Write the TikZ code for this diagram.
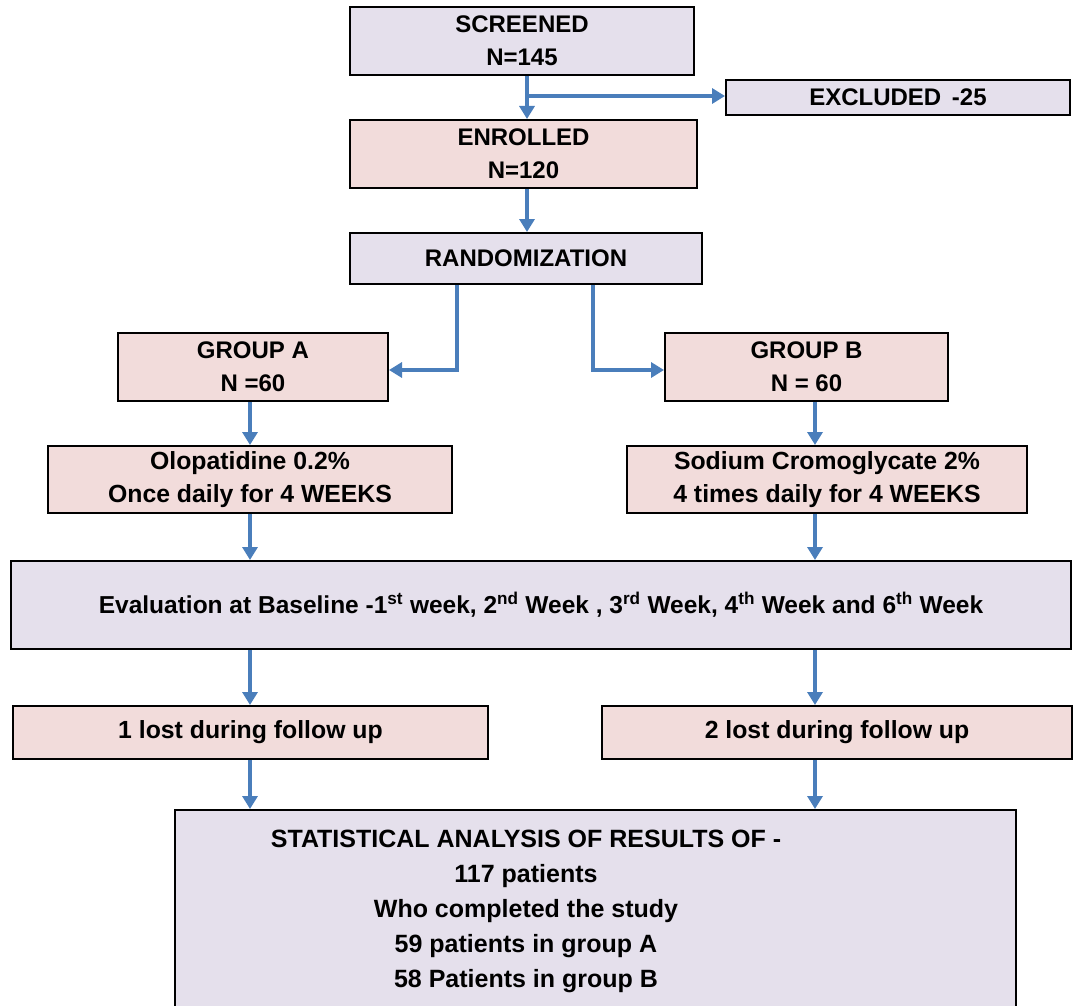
\documentclass[tikz,border=0pt]{standalone}
\usepackage{fontspec}
\setmainfont{Liberation Sans}
\usetikzlibrary{arrows.meta}
\definecolor{lav}{HTML}{E5E0EC}
\definecolor{pnk}{HTML}{F2DCDB}
\definecolor{arrblue}{HTML}{4A7EBB}
\tikzset{
  boxbase/.style={draw=black, line width=2pt, inner sep=0pt, align=center,
    font=\fontsize{24}{33}\selectfont\bfseries},
  lavbox/.style={boxbase, fill=lav},
  pnkbox/.style={boxbase, fill=pnk},
  mixfont/.style={font=\fontsize{24.8}{33}\selectfont\bfseries},
  arr/.style={draw=arrblue, line width=4pt,
    -{Triangle[length=13pt,width=15pt]}}
}
\begin{document}
\begin{tikzpicture}[x=1pt,y=-1pt]
\useasboundingbox (0,0) rectangle (1073,1006);
\fill[white] (0,0) rectangle (1073,1006);
\node[lavbox, minimum width=344pt, minimum height=68pt] (scr) at (522,41) {SCREENED\\N=145};
\node[lavbox, minimum width=344pt, minimum height=35pt] (exc) at (898,97.5) {EXCLUDED \,-25};
\node[pnkbox, minimum width=347pt, minimum height=68pt] (enr) at (523.5,154) {ENROLLED\\N=120};
\node[lavbox, minimum width=352pt, minimum height=51pt] (rnd) at (526,258.5) {RANDOMIZATION};
\node[pnkbox, minimum width=270pt, minimum height=68pt] (ga) at (253,367) {GROUP A\\N =60};
\node[pnkbox, minimum width=283pt, minimum height=68pt] (gb) at (806.5,367) {GROUP B\\N = 60};
\node[pnkbox, mixfont, minimum width=404pt, minimum height=67pt] (ola) at (250,479.5) {Olopatidine 0.2\%\\Once daily for 4 WEEKS};
\node[pnkbox, mixfont, minimum width=400pt, minimum height=67pt] (sod) at (827,479.5) {Sodium Cromoglycate 2\%\\4 times daily for 4 WEEKS};
\node[lavbox, minimum width=1060pt, minimum height=88pt, font=\fontsize{24.5}{30}\selectfont\bfseries] (eva) at (541,605)
  {Evaluation at Baseline -1\textsuperscript{st} week, 2\textsuperscript{nd} Week , 3\textsuperscript{rd} Week, 4\textsuperscript{th} Week and 6\textsuperscript{th} Week};
\node[pnkbox, mixfont, minimum width=475pt, minimum height=53pt] (la) at (250.5,732.5) {1 lost during follow up};
\node[pnkbox, mixfont, minimum width=470pt, minimum height=53pt] (lb) at (837,732.5) {2 lost during follow up};
\node[lavbox, minimum width=841pt, minimum height=204pt] (st) at (595.5,912) {};
\node[inner sep=0pt, align=center, font=\fontsize{25}{35}\selectfont\bfseries] (sttext) at (526,911)
  {STATISTICAL ANALYSIS OF RESULTS OF -\\117 patients\\Who completed the study\\59 patients in group A\\58 Patients in group B};
\coordinate (xs) at (527,0);
\coordinate (xl) at (457,0);
\coordinate (xr) at (593,0);
\coordinate (xa) at (250,0);
\coordinate (xb) at (815,0);
\coordinate (jr) at (527,96);
\draw[arr] (scr.south -| xs) -- (enr.north -| xs);
\draw[arr] (jr) -- (exc.west |- jr);
\draw[arr] (enr.south -| xs) -- (rnd.north -| xs);
\draw[arr] (rnd.south -| xl) |- ([yshift=-3pt]ga.east);
\draw[arr] (rnd.south -| xr) |- ([yshift=-3pt]gb.west);
\draw[arr] (ga.south -| xa) -- (ola.north -| xa);
\draw[arr] (gb.south -| xb) -- (sod.north -| xb);
\draw[arr] (ola.south -| xa) -- (eva.north -| xa);
\draw[arr] (sod.south -| xb) -- (eva.north -| xb);
\draw[arr] (eva.south -| xa) -- (la.north -| xa);
\draw[arr] (eva.south -| xb) -- (lb.north -| xb);
\draw[arr] (la.south -| xa) -- (st.north -| xa);
\draw[arr] (lb.south -| xb) -- (st.north -| xb);
\end{tikzpicture}
\end{document}
